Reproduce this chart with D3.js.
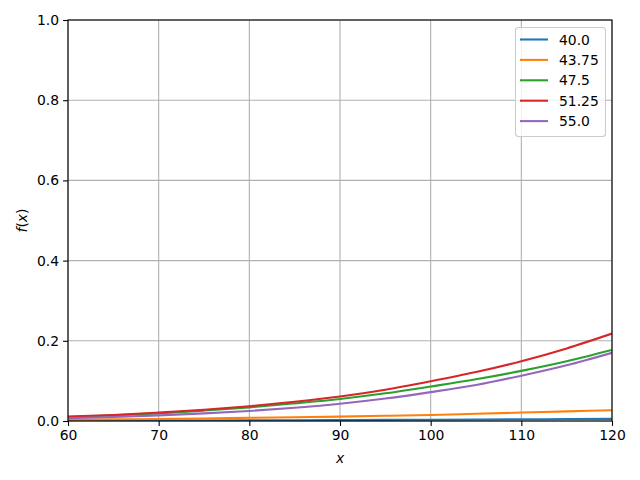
<!DOCTYPE html>
<html><head><meta charset="utf-8">
<script src="https://cdn.jsdelivr.net/npm/d3@7"></script>
<style>body{margin:0;background:#fff}svg{display:block;font-family:"DejaVu Sans",sans-serif}</style>
</head><body><svg id="c" width="640" height="480"></svg>
<script>
const xs = [60,65,70,75,80,85,90,95,100,105,110,115,120];
const seriesNames = ["40.0","43.75","47.5","51.25","55.0"];
const colors = ["#1f77b4","#ff7f0e","#2ca02c","#d62728","#9467bd"];
const s40 = [0.0005,0.0007,0.001,0.0013,0.0016,0.002,0.0024,0.0028,0.0033,0.0038,0.0043,0.0048,0.0054];
const s4375 = [0.003,0.004,0.005,0.006,0.008,0.0095,0.011,0.013,0.015,0.018,0.021,0.024,0.027];
const s475 = [0.010,0.014,0.019,0.026,0.034,0.044,0.055,0.069,0.086,0.104,0.125,0.149,0.177];
const s5125 = [0.011,0.015,0.021,0.028,0.037,0.048,0.061,0.078,0.099,0.122,0.149,0.181,0.218];
const s55 = [0.007,0.010,0.014,0.019,0.025,0.033,0.043,0.056,0.072,0.090,0.113,0.139,0.170];
const xTicks = [60,70,80,90,100,110,120];
const yTicks = [0,0.2,0.4,0.6,0.8,1.0];
const allSeries = [s40,s4375,s475,s5125,s55];

const svg = d3.select("#c");
const L=68,R=612,T=20,B=421;
const x = d3.scaleLinear().domain([60,120]).range([L,R]);
const y = d3.scaleLinear().domain([0,1]).range([B,T]);

// grid
svg.append("g").selectAll("line").data(xTicks).join("line")
  .attr("x1",d=>x(d)).attr("x2",d=>x(d)).attr("y1",T).attr("y2",B)
  .attr("stroke","#b0b0b0").attr("stroke-width",1.1);
svg.append("g").selectAll("line").data(yTicks).join("line")
  .attr("y1",d=>y(d)).attr("y2",d=>y(d)).attr("x1",L).attr("x2",R)
  .attr("stroke","#b0b0b0").attr("stroke-width",1.1);

// lines
svg.append("clipPath").attr("id","clp").append("rect").attr("x",L).attr("y",T).attr("width",R-L).attr("height",B-T);
const line = d3.line().x((d,i)=>x(xs[i])).y(d=>y(d)).curve(d3.curveMonotoneX);
svg.append("g").attr("clip-path","url(#clp)").selectAll("path").data(allSeries).join("path")
  .attr("d",line).attr("fill","none").attr("stroke",(d,i)=>colors[i]).attr("stroke-width",2.08);

// axes
const xAxis = svg.append("g").attr("transform",`translate(0,${B})`)
  .call(d3.axisBottom(x).tickValues(xTicks).tickSize(4.9).tickPadding(4).tickFormat(d3.format("d")));
const yAxis = svg.append("g").attr("transform",`translate(${L},0)`)
  .call(d3.axisLeft(y).tickValues(yTicks).tickSize(4.9).tickPadding(4).tickFormat(d3.format(".1f")));
[xAxis,yAxis].forEach(g=>{
  g.select(".domain").remove();
  g.selectAll("text").attr("font-size","13.9px").attr("font-family","DejaVu Sans").attr("fill","#000");
  g.selectAll("line").attr("stroke","#000").attr("stroke-width",1.1);
});
// frame
svg.append("rect").attr("x",L).attr("y",T).attr("width",R-L).attr("height",B-T)
  .attr("fill","none").attr("stroke","#000").attr("stroke-width",1.1);

// labels
svg.append("text").attr("x",(L+R)/2).attr("y",463).attr("text-anchor","middle")
  .attr("font-size","13.9px").attr("font-style","italic").text("x");
svg.append("text").attr("transform",`translate(27,${(T+B)/2}) rotate(-90)`).attr("text-anchor","middle")
  .attr("font-size","13.9px").html('<tspan font-style="italic">f</tspan>(<tspan font-style="italic">x</tspan>)');

// legend
const lg = svg.append("g");
lg.append("rect").attr("x",515.5).attr("y",27.5).attr("width",90).attr("height",109).attr("rx",3)
  .attr("fill","#fff").attr("fill-opacity",0.8).attr("stroke","#ccc").attr("stroke-width",1.1);
seriesNames.forEach((n,i)=>{
  const yy = 39.5 + i*20.4;
  lg.append("line").attr("x1",520).attr("x2",548).attr("y1",yy).attr("y2",yy)
    .attr("stroke",colors[i]).attr("stroke-width",2.08);
  lg.append("text").attr("x",559).attr("y",yy+5).attr("font-size","13.9px").text(n);
});
</script></body></html>
